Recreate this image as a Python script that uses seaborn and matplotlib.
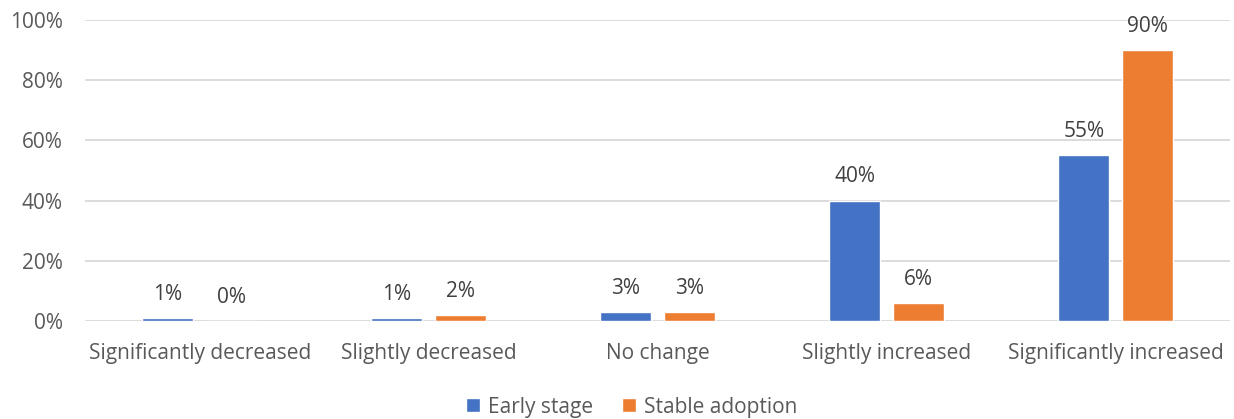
import matplotlib
matplotlib.use("Agg")
import matplotlib.pyplot as plt
import seaborn as sns
import pandas as pd
from matplotlib.ticker import FuncFormatter

categories = ["Significantly decreased", "Slightly decreased", "No change",
              "Slightly increased", "Significantly increased"]
series_names = ["Early stage", "Stable adoption"]
early_stage = [1, 1, 3, 40, 55]
stable_adoption = [0, 2, 3, 6, 90]
y_ticks = [0, 20, 40, 60, 80, 100]

colors = ["#4472C4", "#ED7D31"]
text_color = "#595959"
grid_color = "#D9D9D9"
font_size = 15

df = pd.DataFrame({
    "category": categories * 2,
    "series": [series_names[0]] * len(categories) + [series_names[1]] * len(categories),
    "value": early_stage + stable_adoption,
})

sns.set_theme(style="white")
plt.rcParams["font.family"] = ["Open Sans", "DejaVu Sans"]

fig = plt.figure(figsize=(12.34, 4.19), dpi=100)
ax = fig.add_axes([0.069, 0.234, 0.928, 0.718])

sns.barplot(data=df, x="category", y="value", hue="series",
            order=categories, hue_order=series_names, palette=colors,
            width=0.557, gap=0.2, saturation=1, ax=ax, errorbar=None)

for container in ax.containers:
    ax.bar_label(container, fmt="%d%%", padding=9.5, fontsize=font_size, color="#404040")

ax.set_ylim(0, 100)
ax.set_yticks(y_ticks)
ax.yaxis.set_major_formatter(FuncFormatter(lambda v, _: f"{v:.0f}%"))
ax.set_xlim(-0.5, len(categories) - 0.5)
ax.grid(axis="y", color=grid_color, linewidth=1.3)
ax.set_axisbelow(True)
for s in ax.spines.values():
    s.set_visible(False)
ax.tick_params(axis="both", length=0, labelsize=font_size, labelcolor=text_color)
ax.tick_params(axis="y", pad=16)
ax.tick_params(axis="x", pad=16)
ax.set_xlabel("")
ax.set_ylabel("")

handles, labels = ax.get_legend_handles_labels()
ax.get_legend().remove()
fig.legend(handles, labels, loc="center", bbox_to_anchor=(0.512, 0.028),
           ncol=2, frameon=False, fontsize=font_size, handlelength=0.65,
           handleheight=0.65, handletextpad=0.4, columnspacing=1.4,
           labelcolor=text_color)

fig.savefig("out.png", dpi=100, facecolor="white")
